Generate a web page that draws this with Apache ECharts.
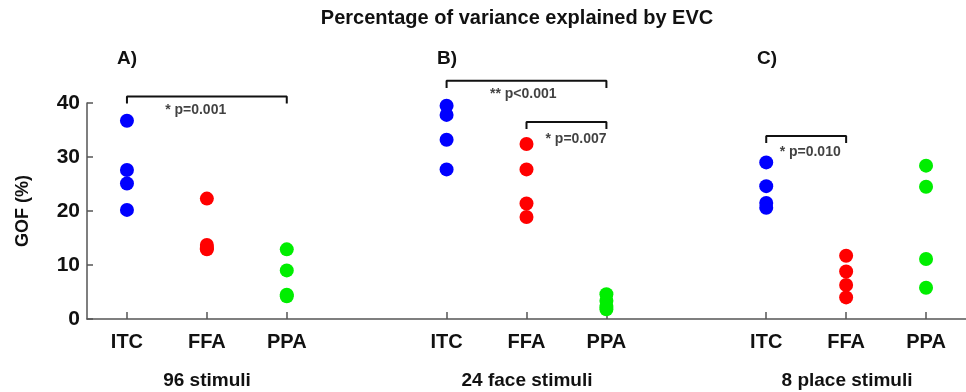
<!DOCTYPE html>
<html>
<head>
<meta charset="utf-8">
<script src="https://cdn.jsdelivr.net/npm/echarts@6/dist/echarts.min.js"></script>
<style>
  html, body { margin: 0; padding: 0; background: #fff; }
  #chart { width: 966px; height: 392px; }
</style>
</head>
<body>
<div id="chart"></div>
<script>
// x slots: A = 0..2, gap 3, B = 4..6, gap 7, C = 8..10
var categories = ['ITC', 'FFA', 'PPA', '', 'ITC', 'FFA', 'PPA', ' ', 'ITC', 'FFA', 'PPA'];
var gapSlots = [3, 7];
var yTicks = [0, 10, 20, 30, 40];

// GOF (%) per subject
var itcA = [36.7, 27.6, 25.1, 20.2];
var ffaA = [22.3, 13.7, 12.9, 13.1];
var ppaA = [12.9, 9.0, 4.5, 4.2];
var itcB = [39.5, 37.8, 33.2, 27.7];
var ffaB = [32.4, 27.7, 21.4, 18.9];
var ppaB = [4.6, 3.4, 2.4, 1.8];
var itcC = [29.0, 24.6, 21.5, 20.6];
var ffaC = [11.7, 8.8, 6.3, 4.0];
var ppaC = [28.4, 24.5, 11.1, 5.8];

var groupNames = ['96 stimuli', '24 face stimuli', '8 place stimuli'];
var panelNames = ['A)', 'B)', 'C)'];

// significance brackets: [from slot, to slot, height], text
var brackets = [[0, 2, 41.2], [4, 6, 44.1], [5, 6, 36.5], [8, 9, 33.9]];
var statText = ['* p=0.001', '** p<0.001', '* p=0.007', '* p=0.010'];
var statPos = [[0.86, 38.6], [4.96, 41.6], [5.62, 33.3], [8.55, 30.9]];

function pts(slot, vals) {
  return vals.map(function (v) { return [slot, v]; });
}

var myChart = echarts.init(document.getElementById('chart'));

var series = [
  { name: 'ITC', color: '#0000ff', data: pts(0, itcA).concat(pts(4, itcB), pts(8, itcC)) },
  { name: 'FFA', color: '#ff0000', data: pts(1, ffaA).concat(pts(5, ffaB), pts(9, ffaC)) },
  { name: 'PPA', color: '#00ee00', data: pts(2, ppaA).concat(pts(6, ppaB), pts(10, ppaC)) }
].map(function (s) {
  return {
    type: 'scatter',
    name: s.name,
    xAxisIndex: 0,
    symbolSize: 14,
    itemStyle: { color: s.color, opacity: 1 },
    data: s.data,
    z: 3
  };
});

brackets.forEach(function (b) {
  var drop = 1.3;
  series.push({
    type: 'line',
    xAxisIndex: 1,
    clip: false,
    symbol: 'none',
    silent: true,
    lineStyle: { color: '#111', width: 2 },
    data: [[b[0], b[2] - drop], [b[0], b[2]], [b[1], b[2]], [b[1], b[2] - drop]]
  });
});

series.push({
  type: 'scatter',
  xAxisIndex: 1,
  clip: false,
  symbolSize: 0,
  silent: true,
  label: {
    show: true,
    position: 'inside',
    formatter: function (p) { return statText[p.dataIndex]; },
    fontFamily: 'Liberation Sans, Arial',
    fontWeight: 'bold',
    fontSize: 14,
    color: '#111'
  },
  data: statPos
});

var graphics = [{
  type: 'text', x: 517, y: 18,
  style: { text: 'Percentage of variance explained by EVC', font: 'bold 20px "Liberation Sans", Arial', fill: '#111', align: 'center', verticalAlign: 'middle' }
}];
panelNames.forEach(function (t, i) {
  graphics.push({
    type: 'text', left: 117 + i * 320, top: 49,
    style: { text: t, font: 'bold 19px "Liberation Sans", Arial', fill: '#111' }
  });
});
groupNames.forEach(function (t, i) {
  graphics.push({
    type: 'text', x: 207 + i * 320, y: 381,
    style: { text: t, font: 'bold 19px "Liberation Sans", Arial', fill: '#111', align: 'center', verticalAlign: 'middle' }
  });
});

option = {
  backgroundColor: '#fff',
  animation: false,
  grid: { left: 87, right: 0, top: 103, bottom: 73 },
  xAxis: [{
    type: 'category',
    data: categories,
    axisLine: { onZero: false, lineStyle: { color: '#555', width: 1.5 } },
    axisTick: {
      show: true,
      inside: true,
      length: 7,
      alignWithLabel: true,
      interval: function (index) { return gapSlots.indexOf(index) < 0; },
      lineStyle: { color: '#555', width: 1.5 }
    },
    axisLabel: {
      interval: 0,
      margin: 13,
      fontFamily: 'Liberation Sans, Arial',
      fontWeight: 'bold',
      fontSize: 20,
      color: '#111'
    },
    splitLine: { show: false }
  }, {
    type: 'value',
    min: -0.5,
    max: 10.5,
    show: false
  }],
  yAxis: {
    type: 'value',
    min: yTicks[0],
    max: yTicks[yTicks.length - 1],
    interval: 10,
    name: 'GOF (%)',
    nameLocation: 'middle',
    nameRotate: 90,
    nameGap: 55,
    nameTextStyle: { fontFamily: 'Liberation Sans, Arial', fontWeight: 'bold', fontSize: 18, color: '#111' },
    axisLine: { show: true, onZero: false, lineStyle: { color: '#555', width: 1.5 } },
    axisTick: { show: true, inside: true, length: 6, lineStyle: { color: '#555', width: 1.5 } },
    axisLabel: {
      margin: 7,
      fontFamily: 'Liberation Sans, Arial',
      fontWeight: 'bold',
      fontSize: 21,
      color: '#111'
    },
    splitLine: { show: false }
  },
  graphic: graphics,
  series: series
};

myChart.setOption(option);
</script>
</body>
</html>
